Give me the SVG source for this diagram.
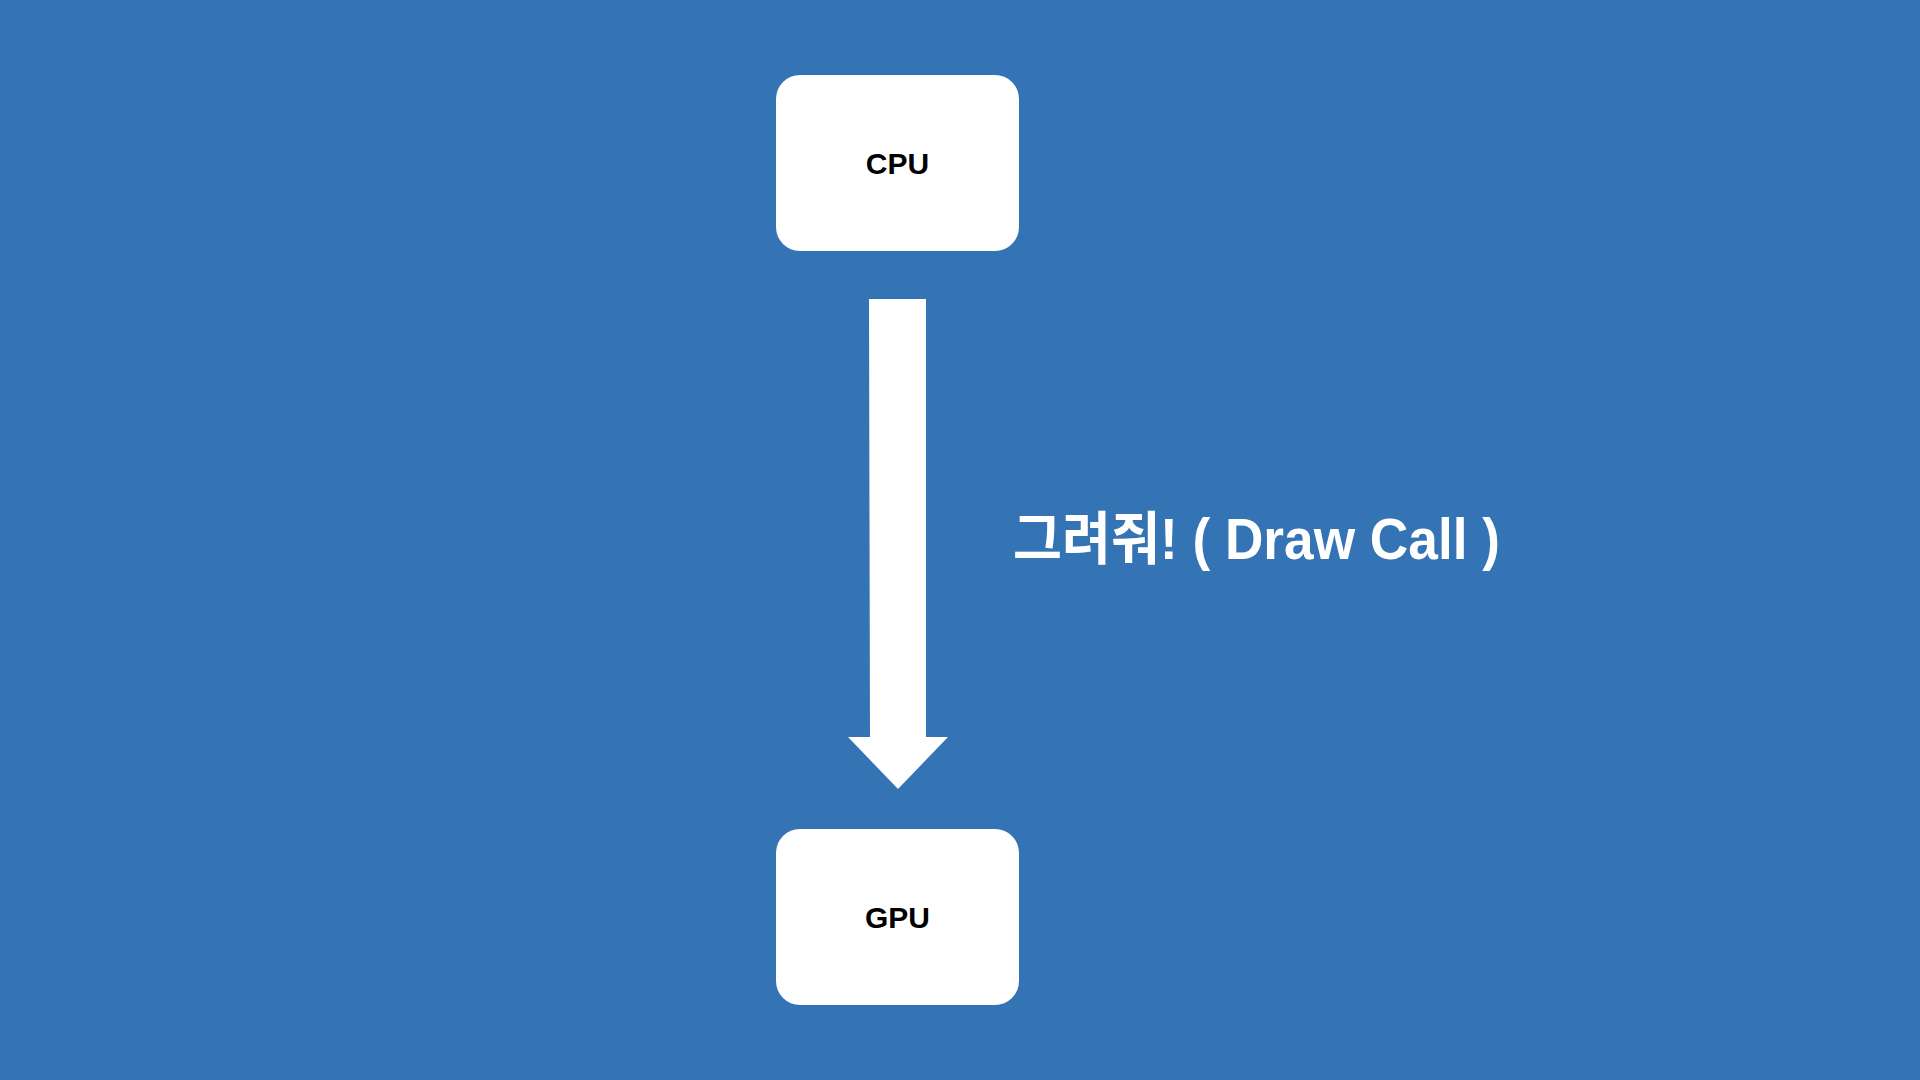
<svg xmlns="http://www.w3.org/2000/svg" width="1920" height="1080" viewBox="0 0 1920 1080">
<style>
.box{fill:#ffffff}
.nl{font-family:"Liberation Sans","Noto Sans CJK KR",sans-serif;font-weight:bold;font-size:30px;fill:#000000;text-anchor:middle}
.lbl{font-family:"Liberation Sans","Noto Sans CJK KR",sans-serif;font-weight:bold;font-size:57px;fill:#ffffff}
</style>
<rect x="0" y="0" width="1920" height="1080" fill="#3474B5"/>
<g id="cpu">
<rect class="box" x="776" y="75" width="243" height="176" rx="24"/>
<text class="nl" x="897.5" y="174">CPU</text>
</g>
<g id="gpu">
<rect class="box" x="776" y="829" width="243" height="176" rx="24"/>
<text class="nl" x="897.5" y="928">GPU</text>
</g>
<g id="connectors">
<polygon fill="#ffffff" points="869,299 926,299 926,737 948,737 898,789 848,737 870,737"/>
<text class="lbl" x="1013" y="559" textLength="487" lengthAdjust="spacingAndGlyphs">그려줘! ( Draw Call )</text>
</g>
</svg>
